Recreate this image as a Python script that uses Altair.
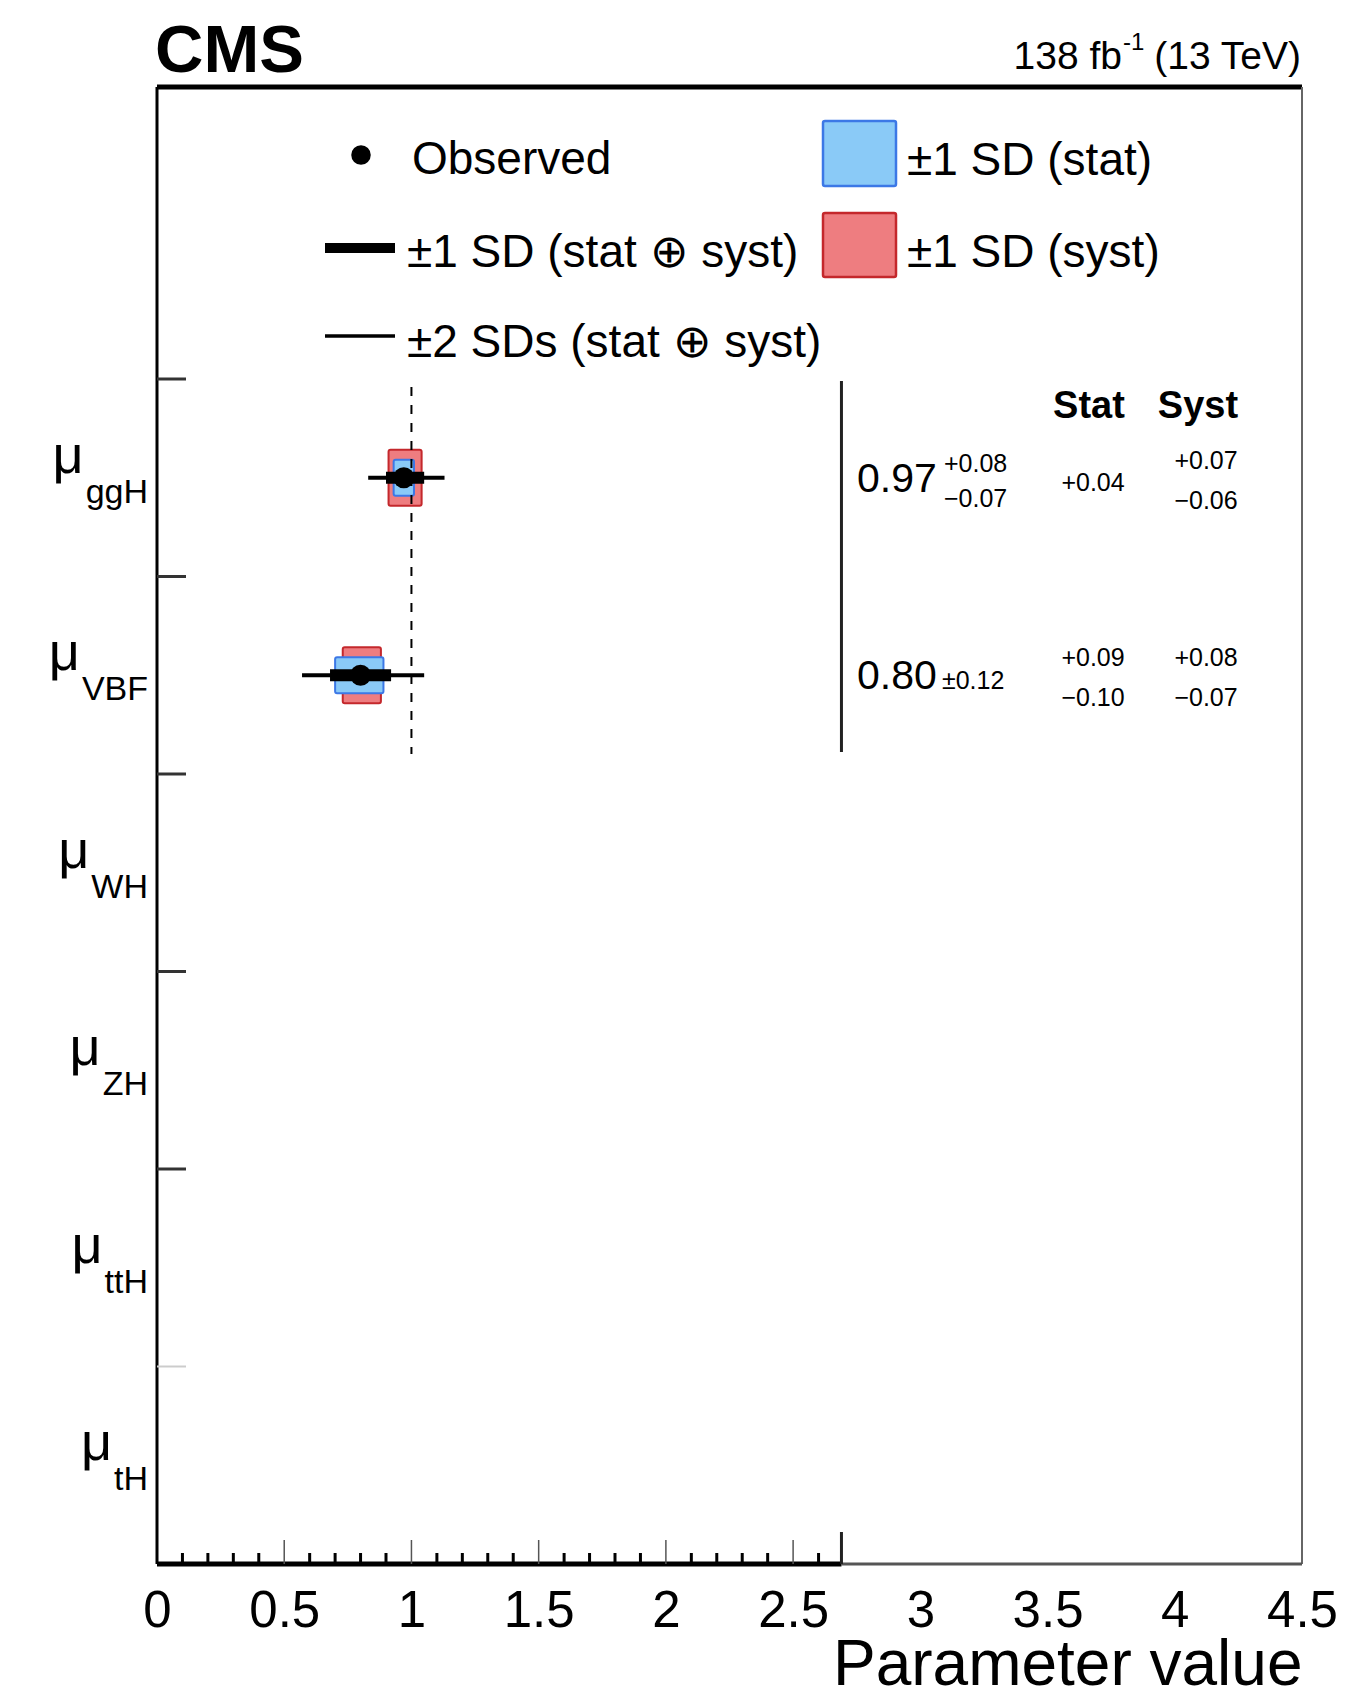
import altair as alt
import pandas as pd

# ---------------- data ----------------
categories = ["ggH", "VBF", "WH", "ZH", "ttH", "tH"]
measured = ["ggH", "VBF"]
best_fit = [0.97, 0.80]
total_up = [0.08, 0.12]
total_dn = [0.07, 0.12]
stat_up = [0.04, 0.09]
stat_dn = [0.04, 0.10]
syst_up = [0.07, 0.08]
syst_dn = [0.06, 0.07]
two_sd_lo = [0.83, 0.57]
two_sd_hi = [1.13, 1.05]

x_tick_labels = [0, 0.5, 1, 1.5, 2, 2.5, 3, 3.5, 4, 4.5]
x_major_ticks = [0.5, 1.0, 1.5, 2.0, 2.5]
x_minor_ticks = [0.1, 0.2, 0.3, 0.4, 0.6, 0.7, 0.8, 0.9, 1.1, 1.2, 1.3, 1.4,
                 1.6, 1.7, 1.8, 1.9, 2.1, 2.2, 2.3, 2.4, 2.6]
y_dark_ticks = [6, 5, 4, 3, 2]
y_faint_ticks = [1]
inner_edge = 2.69
reference_value = 1.0

value_text = ["0.97", "0.80"]
total_text = [["+0.08", "−0.07"], ["±0.12"]]
stat_text = [["+0.04"], ["+0.09", "−0.10"]]
syst_text = [["+0.07", "−0.06"], ["+0.08", "−0.07"]]
header_text = ["Stat", "Syst"]
legend_text = ["Observed", "±1 SD (stat ⊕ syst)", "±2 SDs (stat ⊕ syst)",
               "±1 SD (stat)", "±1 SD (syst)"]

# ---------------- geometry helpers ----------------
FONT = "Liberation Sans"
X_LEFT = 157.0
Y_TOP = 87.0
PLOT_W = 1145
PLOT_H = 1477
XMAX = 4.5
PPX = PLOT_W / XMAX
PPY = 197.5
YMAX = PLOT_H / PPY


def xd(px):
    return (px - X_LEFT) / PPX


def yd(py):
    return (Y_TOP + PLOT_H - py) / PPY


XS = alt.Scale(domain=[0, XMAX], nice=False, zero=False)
YS = alt.Scale(domain=[0, YMAX], nice=False, zero=False)
XAXIS = alt.Axis(values=x_tick_labels, format="~g", title="Parameter value",
                 ticks=False, tickSize=0, domain=False, grid=False,
                 labelFontSize=51, labelFont=FONT, labelColor="black",
                 labelPadding=22, labelFlush=False, labelOverlap=False,
                 titleFontSize=64, titleFont=FONT, titleFontWeight="normal",
                 titleColor="black", titleX=PLOT_W, titleY=120,
                 titleAlign="right", titleAnchor="end",
                 titleBaseline="alphabetic")


def X(f):
    return alt.X(f, type="quantitative", scale=XS, axis=XAXIS)


def Y(f):
    return alt.Y(f, type="quantitative", scale=YS, axis=None)


cat_pos = {c: 5.5 - i for i, c in enumerate(categories)}

# ---------------- measurement marks ----------------
m = pd.DataFrame({
    "cat": measured,
    "pos": [cat_pos[c] for c in measured],
    "c": best_fit,
    "tlo": [c - d for c, d in zip(best_fit, total_dn)],
    "thi": [c + u for c, u in zip(best_fit, total_up)],
    "slo": [c - d for c, d in zip(best_fit, stat_dn)],
    "shi": [c + u for c, u in zip(best_fit, stat_up)],
    "ylo": [c - d for c, d in zip(best_fit, syst_dn)],
    "yhi": [c + u for c, u in zip(best_fit, syst_up)],
    "two_lo": two_sd_lo,
    "two_hi": two_sd_hi,
})
m["sy0"] = m["pos"] - 28 / PPY
m["sy1"] = m["pos"] + 28 / PPY
m["by0"] = m["pos"] - 18 / PPY
m["by1"] = m["pos"] + 18 / PPY

RED_FILL, RED_LINE = "#EE7D80", "#C4282C"
BLUE_FILL, BLUE_LINE = "#8ACAF7", "#3C78E6"

syst_box = alt.Chart(m).mark_rect(fill=RED_FILL, stroke=RED_LINE, strokeWidth=2, cornerRadius=2).encode(
    x=X("ylo"), x2="yhi", y=Y("sy0"), y2="sy1")
stat_box = alt.Chart(m).mark_rect(fill=BLUE_FILL, stroke=BLUE_LINE, strokeWidth=2, cornerRadius=2).encode(
    x=X("slo"), x2="shi", y=Y("by0"), y2="by1")
two_sd = alt.Chart(m).mark_rule(color="black", strokeWidth=4).encode(
    x=X("two_lo"), x2="two_hi", y=Y("pos"))
one_sd = alt.Chart(m).mark_rule(color="black", strokeWidth=12, strokeCap="butt").encode(
    x=X("tlo"), x2="thi", y=Y("pos"))
dots = alt.Chart(m).mark_circle(color="black", opacity=1, size=440).encode(
    x=X("c"), y=Y("pos"))

# ---------------- reference / separator lines ----------------
ref_df = pd.DataFrame({"x": [reference_value], "y0": [yd(387)], "y1": [yd(754)]})
ref_line = alt.Chart(ref_df).mark_rule(color="black", strokeWidth=2, strokeDash=[9, 9]).encode(
    x=X("x"), y=Y("y0"), y2="y1")
sep_df = pd.DataFrame({"x": [inner_edge], "y0": [yd(381)], "y1": [yd(752)]})
sep_line = alt.Chart(sep_df).mark_rule(color="#222", strokeWidth=3).encode(
    x=X("x"), y=Y("y0"), y2="y1")


# ---------------- frame ----------------
def rule(df, color, width, horizontal):
    ch = alt.Chart(pd.DataFrame(df)).mark_rule(color=color, strokeWidth=width, strokeCap="butt")
    if horizontal:
        return ch.encode(x=X("a"), x2="b", y=Y("c"))
    return ch.encode(y=Y("a"), y2="b", x=X("c"))


frame = [
    rule({"a": [0], "b": [XMAX], "c": [YMAX]}, "black", 5, True),
    rule({"a": [0], "b": [YMAX], "c": [0]}, "black", 3, False),
    rule({"a": [0], "b": [YMAX], "c": [XMAX]}, "#666", 2, False),
    rule({"a": [inner_edge], "b": [XMAX], "c": [0]}, "#555", 3, True),
    rule({"a": [0], "b": [inner_edge], "c": [0]}, "black", 5, True),
]

# ---------------- ticks ----------------
minor_df = pd.DataFrame({"c": x_minor_ticks, "a": 0.0, "b": 11 / PPY})
major_df = pd.DataFrame({"c": x_major_ticks, "a": 0.0, "b": 24 / PPY})
edge_df = pd.DataFrame({"c": [inner_edge], "a": [0.0], "b": [32 / PPY]})
ydark_df = pd.DataFrame({"c": y_dark_ticks, "a": 0.0, "b": 29 / PPX})
yfaint_df = pd.DataFrame({"c": y_faint_ticks, "a": 0.0, "b": 29 / PPX})
ticks = [
    alt.Chart(minor_df).mark_rule(color="black", strokeWidth=3).encode(x=X("c"), y=Y("a"), y2="b"),
    alt.Chart(major_df).mark_rule(color="#555", strokeWidth=1.5).encode(x=X("c"), y=Y("a"), y2="b"),
    alt.Chart(edge_df).mark_rule(color="#222", strokeWidth=3).encode(x=X("c"), y=Y("a"), y2="b"),
    alt.Chart(ydark_df).mark_rule(color="#333", strokeWidth=3).encode(y=Y("c"), x=X("a"), x2="b"),
    alt.Chart(yfaint_df).mark_rule(color="#ccc", strokeWidth=2).encode(y=Y("c"), x=X("a"), x2="b"),
]

# ---------------- y labels (mu with subscripts) ----------------
ARIAL_W = {"g": .556, "H": .722, "V": .667, "B": .667, "F": .611, "W": .944,
           "Z": .611, "t": .278}
SUB_FS, MU_FS = 34, 54
LABEL_RIGHT = 148
lab = pd.DataFrame({"sub": categories, "pos": [cat_pos[c] for c in categories]})
lab["sub_y"] = lab["pos"] - 25 / PPY
lab["mu_y"] = lab["pos"] + 5 / PPY
lab["sub_x"] = xd(LABEL_RIGHT)
lab["mu_x"] = [xd(LABEL_RIGHT - sum(ARIAL_W[ch] for ch in s) * SUB_FS - 2) for s in categories]
lab["mu"] = "μ"
sub_labels = alt.Chart(lab).mark_text(font=FONT, fontSize=SUB_FS, align="right", baseline="alphabetic",
                                       color="black").encode(x=X("sub_x"), y=Y("sub_y"), text="sub:N")
mu_labels = alt.Chart(lab).mark_text(font=FONT, fontSize=MU_FS, align="right", baseline="alphabetic",
                                      color="black").encode(x=X("mu_x"), y=Y("mu_y"), text="mu:N")

# ---------------- table ----------------
big_rows, small_l, small_c = [], [], []
for i, cat in enumerate(measured):
    p = cat_pos[cat]
    big_rows.append({"x": xd(857), "y": p - 2 / PPY, "t": value_text[i]})
    tt = total_text[i]
    if len(tt) == 2:
        small_l.append({"x": xd(944), "y": p + 14 / PPY, "t": tt[0]})
        small_l.append({"x": xd(944), "y": p - 21 / PPY, "t": tt[1]})
    else:
        small_l.append({"x": xd(942), "y": p - 6 / PPY, "t": tt[0]})
    for col_x, txt in ((1093, stat_text[i]), (1206, syst_text[i])):
        if len(txt) == 2:
            small_c.append({"x": xd(col_x), "y": p + 17 / PPY, "t": txt[0]})
            small_c.append({"x": xd(col_x), "y": p - 23 / PPY, "t": txt[1]})
        else:
            small_c.append({"x": xd(col_x), "y": p - 5 / PPY, "t": txt[0]})

big_txt = alt.Chart(pd.DataFrame(big_rows)).mark_text(font=FONT, fontSize=41, align="left", baseline="middle",
                                                      color="black").encode(x=X("x"), y=Y("y"), text="t:N")
sl_txt = alt.Chart(pd.DataFrame(small_l)).mark_text(font=FONT, fontSize=25, align="left", baseline="middle",
                                                    color="black").encode(x=X("x"), y=Y("y"), text="t:N")
sc_txt = alt.Chart(pd.DataFrame(small_c)).mark_text(font=FONT, fontSize=25, align="center", baseline="middle",
                                                    color="black").encode(x=X("x"), y=Y("y"), text="t:N")
hdr = pd.DataFrame({"x": [xd(1089), xd(1198)], "y": [yd(418)] * 2, "t": header_text})
hdr_txt = alt.Chart(hdr).mark_text(font=FONT, fontSize=38, fontWeight="bold", align="center",
                                   baseline="alphabetic", color="black").encode(x=X("x"), y=Y("y"), text="t:N")

# ---------------- legend ----------------
leg_dot = alt.Chart(pd.DataFrame({"x": [xd(361)], "y": [yd(155)]})).mark_circle(
    color="black", opacity=1, size=380).encode(x=X("x"), y=Y("y"))
leg_thick = rule({"a": [xd(325)], "b": [xd(395)], "c": [yd(248)]}, "black", 10, True)
leg_thin = rule({"a": [xd(325)], "b": [xd(395)], "c": [yd(336)]}, "black", 3.5, True)
leg_boxes = pd.DataFrame({
    "x0": [xd(823), xd(823)], "x1": [xd(896), xd(896)],
    "y0": [yd(121), yd(213)], "y1": [yd(186), yd(277)],
    "k": ["stat", "syst"]})
leg_box = alt.Chart(leg_boxes).mark_rect(strokeWidth=2.5, cornerRadius=2).encode(
    x=X("x0"), x2="x1", y=Y("y0"), y2="y1",
    fill=alt.Fill("k:N", scale=alt.Scale(domain=["stat", "syst"], range=[BLUE_FILL, RED_FILL]), legend=None),
    stroke=alt.Stroke("k:N", scale=alt.Scale(domain=["stat", "syst"], range=[BLUE_LINE, RED_LINE]), legend=None))
leg_labels = pd.DataFrame({
    "x": [xd(412), xd(407), xd(407), xd(907), xd(907)],
    "y": [yd(160), yd(253), yd(343), yd(161), yd(253)],
    "t": legend_text})
leg_txt = alt.Chart(leg_labels).mark_text(font=FONT, fontSize=46, align="left", baseline="middle",
                                          color="black").encode(x=X("x"), y=Y("y"), text="t:N")

# ---------------- CMS / luminosity ----------------
head = pd.DataFrame({"x": [xd(155)], "y": [yd(72)], "t": ["CMS"]})
cms_txt = alt.Chart(head).mark_text(font=FONT, fontSize=67, fontWeight="bold", align="left",
                                    baseline="alphabetic", color="black").encode(x=X("x"), y=Y("y"), text="t:N")
lumi = pd.DataFrame({"x": [xd(1122), xd(1301)], "y": [yd(69), yd(69)], "t": ["138 fb", "(13 TeV)"]})
lumi_txt = alt.Chart(lumi).mark_text(font=FONT, fontSize=39, align="right", baseline="alphabetic",
                                     color="black").encode(x=X("x"), y=Y("y"), text="t:N")
sup = pd.DataFrame({"x": [xd(1123)], "y": [yd(50)], "t": ["-1"]})
sup_txt = alt.Chart(sup).mark_text(font=FONT, fontSize=24, align="left", baseline="alphabetic",
                                   color="black").encode(x=X("x"), y=Y("y"), text="t:N")

layers = ([syst_box, stat_box, ref_line, sep_line, two_sd, one_sd, dots] + frame + ticks +
          [sub_labels, mu_labels, big_txt, sl_txt, sc_txt, hdr_txt,
           leg_thick, leg_thin, leg_box, leg_dot, leg_txt, cms_txt, lumi_txt, sup_txt])

chart = alt.layer(*layers).properties(
    width=PLOT_W, height=PLOT_H,
    padding={"left": 149, "top": 79, "right": 40, "bottom": 122},
    autosize=alt.AutoSizeParams(type="none"),
    background="white",
).configure_view(strokeWidth=0)

chart.save("out.html", embed_options={"renderer": "svg", "actions": False})
